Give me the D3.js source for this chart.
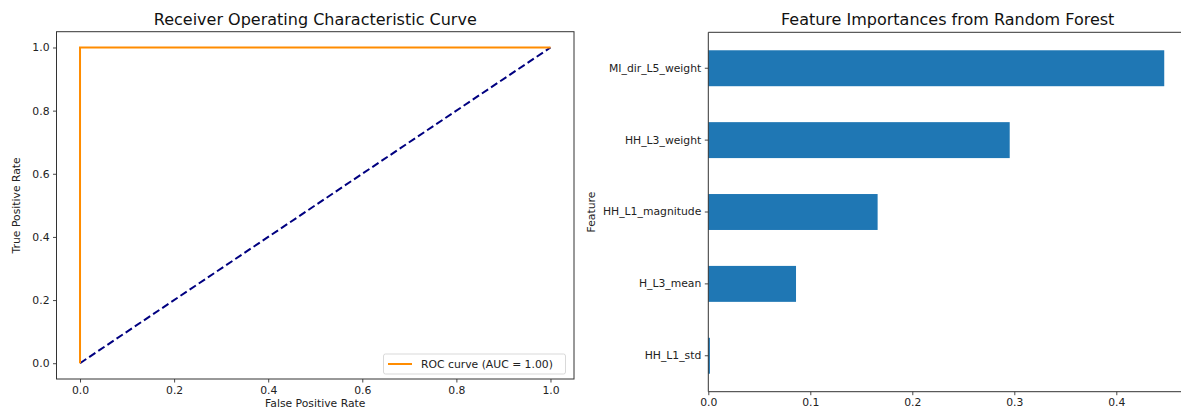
<!DOCTYPE html>
<html>
<head>
<meta charset="utf-8">
<script src="https://cdn.jsdelivr.net/npm/d3@7"></script>
<style>
  html, body { margin: 0; padding: 0; background: #fff; }
  svg { display: block; font-family: "DejaVu Sans", sans-serif; }
  .tick text { fill: #222; }
</style>
</head>
<body>
<svg id="chart" width="1181" height="408"></svg>
<script>
// ---- data ----
const rocFpr = [0, 0, 1];
const rocTpr = [0, 1, 1];
const chanceX = [0, 1];
const chanceY = [0, 1];
const rocTicks = [0, 0.2, 0.4, 0.6, 0.8, 1.0];
const aucLabel = "ROC curve (AUC = 1.00)";

const features = ["HH_L1_std", "H_L3_mean", "HH_L1_magnitude", "HH_L3_weight", "MI_dir_L5_weight"];
const importances = [0.0016, 0.086, 0.166, 0.2955, 0.447];
const impTicks = [0, 0.1, 0.2, 0.3, 0.4];

// ---- layout ----
const svg = d3.select("#chart");
const TICK_FS = 10.8, LABEL_FS = 10.8, TITLE_FS = 16;
const spine = "#333";
const fmt1 = d3.format(".1f");

function styleAxis(g) {
  g.select(".domain").remove();
  g.selectAll(".tick line").attr("stroke", spine).attr("stroke-width", 0.9);
  g.selectAll(".tick text").attr("font-size", TICK_FS).attr("font-family", "DejaVu Sans");
}

// ===== Left: ROC =====
const L = {x0: 56.5, x1: 574, y0: 31.7, y1: 379};
const xR = d3.scaleLinear().domain([-0.05, 1.05]).range([L.x0, L.x1]);
const yR = d3.scaleLinear().domain([-0.05, 1.05]).range([L.y1, L.y0]);

const gl = svg.append("g");
gl.append("g").attr("transform", `translate(0,${L.y1})`)
  .call(d3.axisBottom(xR).tickValues(rocTicks).tickFormat(fmt1).tickSize(3.5).tickPadding(3.5))
  .call(styleAxis);
gl.append("g").attr("transform", `translate(${L.x0},0)`)
  .call(d3.axisLeft(yR).tickValues(rocTicks).tickFormat(fmt1).tickSize(3.5).tickPadding(3.5))
  .call(styleAxis);

const line = d3.line().x(d => xR(d[0])).y(d => yR(d[1]));
gl.append("path").datum(d3.zip(chanceX, chanceY)).attr("d", line)
  .attr("fill", "none").attr("stroke", "navy").attr("stroke-width", 2).attr("stroke-dasharray", "7.5,3.5");
gl.append("path").datum(d3.zip(rocFpr, rocTpr)).attr("d", line)
  .attr("fill", "none").attr("stroke", "darkorange").attr("stroke-width", 2);

gl.append("rect").attr("x", L.x0).attr("y", L.y0).attr("width", L.x1 - L.x0).attr("height", L.y1 - L.y0)
  .attr("fill", "none").attr("stroke", spine).attr("stroke-width", 1);

// legend
const lg = gl.append("g");
lg.append("rect").attr("x", 383.5).attr("y", 354).attr("width", 182).attr("height", 20).attr("rx", 2)
  .attr("fill", "#fff").attr("fill-opacity", 0.8).attr("stroke", "#d9d9d9").attr("stroke-width", 1);
lg.append("line").attr("x1", 388).attr("x2", 412).attr("y1", 364).attr("y2", 364)
  .attr("stroke", "darkorange").attr("stroke-width", 2);
lg.append("text").attr("x", 421).attr("y", 364).attr("dy", "0.35em").attr("font-size", TICK_FS)
  .attr("fill", "#222").text(aucLabel);

gl.append("text").attr("x", (L.x0 + L.x1) / 2).attr("y", 25).attr("text-anchor", "middle")
  .attr("font-size", TITLE_FS).attr("fill", "#111").text("Receiver Operating Characteristic Curve");
gl.append("text").attr("x", (L.x0 + L.x1) / 2).attr("y", 406.5).attr("text-anchor", "middle")
  .attr("font-size", LABEL_FS).attr("fill", "#222").text("False Positive Rate");
gl.append("text").attr("transform", `translate(20,${(L.y0 + L.y1) / 2}) rotate(-90)`).attr("text-anchor", "middle")
  .attr("font-size", LABEL_FS).attr("fill", "#222").text("True Positive Rate");

// ===== Right: Feature importances =====
const R = {x0: 708.3, y0: 32.3, y1: 391.7};
const unit = 1020; // px per 1.0
const xmax = d3.max(importances) * 1.05;
const xB = d3.scaleLinear().domain([0, xmax]).range([R.x0, R.x0 + xmax * unit]);
const yB = d3.scaleBand().domain(features).range([R.y1, R.y0]).paddingInner(0.5).paddingOuter(0.25);

const gr = svg.append("g");
gr.selectAll("rect.bar").data(features).join("rect").attr("class", "bar")
  .attr("x", xB(0)).attr("y", d => yB(d))
  .attr("width", (d, i) => Math.max(xB(importances[i]) - xB(0), 1.2))
  .attr("height", yB.bandwidth())
  .attr("fill", "#1f77b4");

gr.append("g").attr("transform", `translate(0,${R.y1})`)
  .call(d3.axisBottom(xB).tickValues(impTicks).tickFormat(fmt1).tickSize(3.5).tickPadding(3.5))
  .call(styleAxis);
gr.append("g").attr("transform", `translate(${R.x0},0)`)
  .call(d3.axisLeft(yB).tickSize(3.5).tickPadding(3.5))
  .call(styleAxis);

const xEnd = xB(xmax);
gr.append("line").attr("x1", R.x0).attr("x2", R.x0).attr("y1", R.y0).attr("y2", R.y1).attr("stroke", spine);
gr.append("line").attr("x1", R.x0).attr("x2", xEnd).attr("y1", R.y1).attr("y2", R.y1).attr("stroke", spine);
gr.append("line").attr("x1", R.x0).attr("x2", xEnd).attr("y1", R.y0).attr("y2", R.y0).attr("stroke", spine);
gr.append("line").attr("x1", xEnd).attr("x2", xEnd).attr("y1", R.y0).attr("y2", R.y1).attr("stroke", spine);

gr.append("text").attr("x", (R.x0 + xEnd) / 2).attr("y", 25).attr("text-anchor", "middle")
  .attr("font-size", TITLE_FS).attr("fill", "#111").text("Feature Importances from Random Forest");
gr.append("text").attr("transform", `translate(595,${(R.y0 + R.y1) / 2}) rotate(-90)`).attr("text-anchor", "middle")
  .attr("font-size", LABEL_FS).attr("fill", "#222").text("Feature");
</script>
</body>
</html>
